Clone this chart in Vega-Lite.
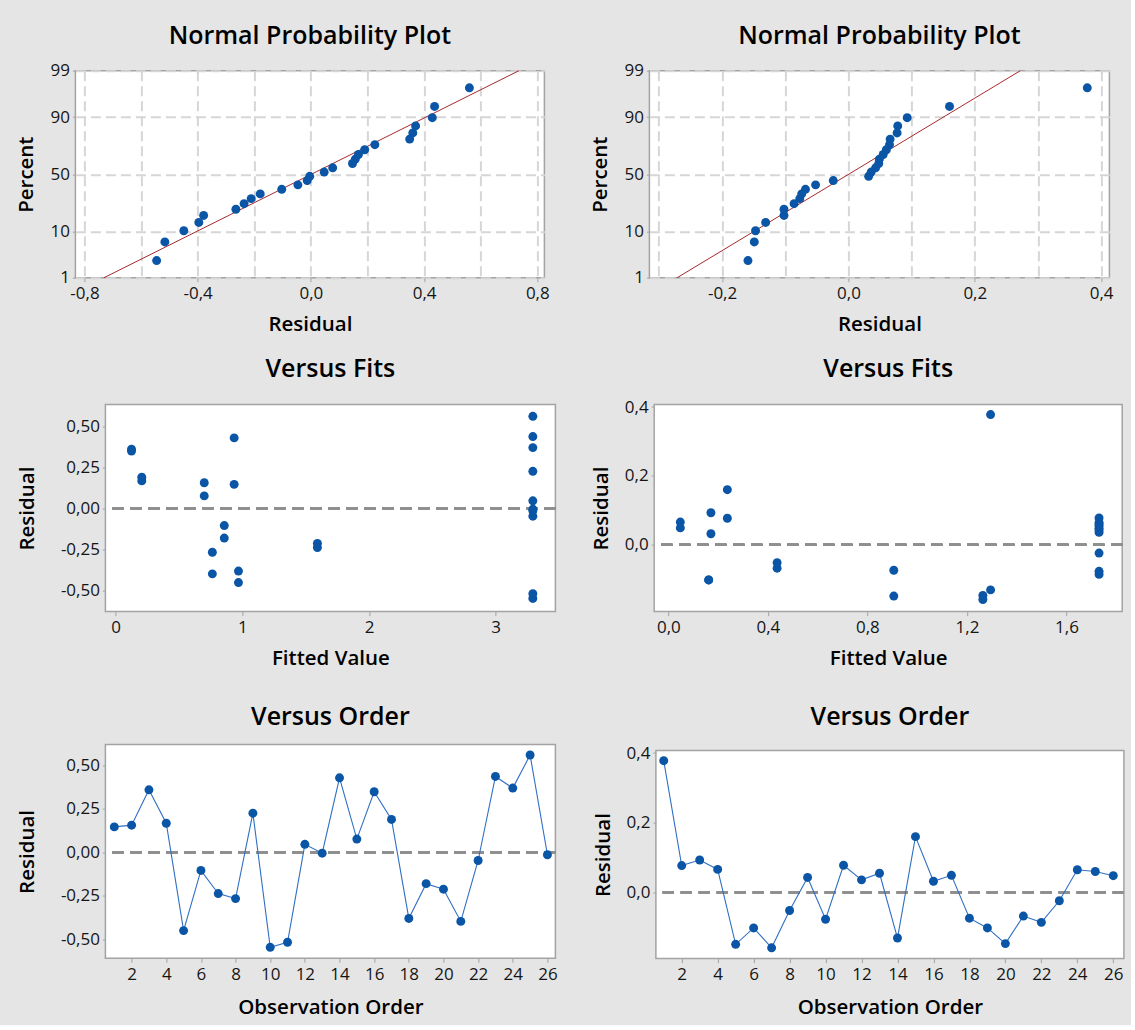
{
  "$schema": "https://vega.github.io/schema/vega-lite/v6.json",
  "background": "#e5e5e5",
  "padding": {"left": 15.4, "top": 22.7, "right": 5, "bottom": 5},
  "datasets": {
    "m1": [
      {"order": 1, "fit": 0.936, "resid": 0.147, "pct": 59.47},
      {"order": 2, "fit": 0.700, "resid": 0.157, "pct": 63.26},
      {"order": 3, "fit": 0.126, "resid": 0.360, "pct": 82.20},
      {"order": 4, "fit": 0.207, "resid": 0.168, "pct": 67.05},
      {"order": 5, "fit": 0.970, "resid": -0.449, "pct": 10.23},
      {"order": 6, "fit": 0.858, "resid": -0.103, "pct": 36.74},
      {"order": 7, "fit": 1.593, "resid": -0.236, "pct": 25.38},
      {"order": 8, "fit": 0.764, "resid": -0.265, "pct": 21.59},
      {"order": 9, "fit": 3.293, "resid": 0.226, "pct": 74.62},
      {"order": 10, "fit": 3.293, "resid": -0.545, "pct": 2.65},
      {"order": 11, "fit": 3.293, "resid": -0.516, "pct": 6.44},
      {"order": 12, "fit": 3.293, "resid": 0.047, "pct": 51.89},
      {"order": 13, "fit": 3.293, "resid": -0.004, "pct": 48.11},
      {"order": 14, "fit": 0.936, "resid": 0.429, "pct": 89.77},
      {"order": 15, "fit": 0.700, "resid": 0.077, "pct": 55.68},
      {"order": 16, "fit": 0.126, "resid": 0.349, "pct": 78.41},
      {"order": 17, "fit": 0.207, "resid": 0.190, "pct": 70.83},
      {"order": 18, "fit": 0.970, "resid": -0.379, "pct": 17.80},
      {"order": 19, "fit": 0.858, "resid": -0.179, "pct": 32.95},
      {"order": 20, "fit": 1.593, "resid": -0.211, "pct": 29.17},
      {"order": 21, "fit": 0.764, "resid": -0.396, "pct": 14.02},
      {"order": 22, "fit": 3.293, "resid": -0.046, "pct": 40.53},
      {"order": 23, "fit": 3.293, "resid": 0.437, "pct": 93.56},
      {"order": 24, "fit": 3.293, "resid": 0.370, "pct": 85.98},
      {"order": 25, "fit": 3.293, "resid": 0.560, "pct": 97.35},
      {"order": 26, "fit": 3.293, "resid": -0.013, "pct": 44.32}
    ],
    "m2": [
      {"order": 1, "fit": 1.295, "resid": 0.378, "pct": 97.35},
      {"order": 2, "fit": 0.237, "resid": 0.077, "pct": 82.20},
      {"order": 3, "fit": 0.171, "resid": 0.093, "pct": 89.77},
      {"order": 4, "fit": 0.048, "resid": 0.066, "pct": 78.41},
      {"order": 5, "fit": 0.906, "resid": -0.149, "pct": 6.44},
      {"order": 6, "fit": 0.162, "resid": -0.102, "pct": 17.80},
      {"order": 7, "fit": 1.264, "resid": -0.159, "pct": 2.65},
      {"order": 8, "fit": 0.437, "resid": -0.052, "pct": 40.53},
      {"order": 9, "fit": 1.731, "resid": 0.043, "pct": 55.68},
      {"order": 10, "fit": 1.731, "resid": -0.077, "pct": 29.17},
      {"order": 11, "fit": 1.731, "resid": 0.078, "pct": 85.98},
      {"order": 12, "fit": 1.731, "resid": 0.036, "pct": 51.89},
      {"order": 13, "fit": 1.731, "resid": 0.055, "pct": 67.05},
      {"order": 14, "fit": 1.295, "resid": -0.131, "pct": 14.02},
      {"order": 15, "fit": 0.237, "resid": 0.160, "pct": 93.56},
      {"order": 16, "fit": 0.171, "resid": 0.032, "pct": 48.11},
      {"order": 17, "fit": 0.048, "resid": 0.049, "pct": 63.26},
      {"order": 18, "fit": 0.906, "resid": -0.074, "pct": 32.95},
      {"order": 19, "fit": 0.162, "resid": -0.102, "pct": 21.59},
      {"order": 20, "fit": 1.264, "resid": -0.147, "pct": 10.23},
      {"order": 21, "fit": 0.437, "resid": -0.068, "pct": 36.74},
      {"order": 22, "fit": 1.731, "resid": -0.086, "pct": 25.38},
      {"order": 23, "fit": 1.731, "resid": -0.024, "pct": 44.32},
      {"order": 24, "fit": 1.731, "resid": 0.065, "pct": 74.62},
      {"order": 25, "fit": 1.731, "resid": 0.060, "pct": 70.83},
      {"order": 26, "fit": 1.731, "resid": 0.048, "pct": 59.47}
    ],
    "line1": [{"resid": -0.731, "pct": 1}, {"resid": 0.735, "pct": 99}],
    "line2": [{"resid": -0.271, "pct": 1}, {"resid": 0.272, "pct": 99}],
    "blank": [{}]
  },
  "concat": [
    {
      "concat": [
        {
          "width": 469, "height": 207,
          "title": {"text": "Normal Probability Plot", "offset": 13},
          "layer": [
            {
              "data": {"name": "line1"},
              "mark": {"type": "line", "color": "#a8282e", "strokeWidth": 1},
              "encoding": {
                "x": {"field": "resid", "type": "quantitative", "title": "Residual"},
                "y": {"field": "pct", "type": "quantitative", "title": "Percent"}
              }
            },
            {
              "data": {"name": "m1"},
              "mark": {"type": "circle", "size": 80, "color": "#0a55a5", "opacity": 1},
              "encoding": {
                "x": {"field": "resid", "type": "quantitative", "title": "Residual",
                  "scale": {"domain": [-0.832, 0.825], "nice": false, "zero": false},
                  "axis": {"values": [-0.8, -0.6, -0.4, -0.2, 0, 0.2, 0.4, 0.6, 0.8], "tickCount": 40, "grid": true, "titlePadding": 13, "labelOverlap": false,
                    "gridColor": "#d6d6d6", "gridDash": [10, 5], "gridWidth": 2,
                    "tickOpacity": {"condition": {"test": "round(datum.value*10)%4==0", "value": 1}, "value": 0},
                    "labelExpr": "round(datum.value*10)%4==0 ? replace(replace(format(datum.value,'.1f'),'.',','),'\u2212','-') : ''"}},
                "y": {"field": "pct", "type": "quantitative", "title": "Percent",
                  "scale": {"domain": [1,2,3,5,7,10,15,20,25,30,35,40,45,50,55,60,65,70,75,80,85,90,93,95,97,98,99],
                    "range": [207,194.87,187.18,176.68,169.16,160.52,149.61,140.94,133.51,126.83,120.64,114.77,109.09,103.5,97.91,92.23,86.36,80.17,73.49,66.06,57.39,46.48,37.84,30.32,19.82,12.13,0],
                    "nice": false, "zero": false},
                  "axis": {"values": [1, 10, 50, 90, 99], "tickCount": 40, "grid": true, "format": "d", "titlePadding": 13, "labelOverlap": false,
                    "gridColor": "#d6d6d6", "gridDash": [10, 5], "gridWidth": 2}}
              }
            }
          ]
        },
        {
          "width": 460, "height": 207,
          "title": {"text": "Normal Probability Plot", "offset": 13},
          "layer": [
            {
              "data": {"name": "line2"},
              "mark": {"type": "line", "color": "#a8282e", "strokeWidth": 1},
              "encoding": {
                "x": {"field": "resid", "type": "quantitative", "title": "Residual"},
                "y": {"field": "pct", "type": "quantitative", "title": "Percent"}
              }
            },
            {
              "data": {"name": "m2"},
              "mark": {"type": "circle", "size": 80, "color": "#0a55a5", "opacity": 1},
              "encoding": {
                "x": {"field": "resid", "type": "quantitative", "title": "Residual",
                  "scale": {"domain": [-0.315, 0.413], "nice": false, "zero": false},
                  "axis": {"values": [-0.3, -0.2, -0.1, 0, 0.1, 0.2, 0.3, 0.4], "tickCount": 40, "grid": true, "titlePadding": 13, "labelOverlap": false,
                    "gridColor": "#d6d6d6", "gridDash": [10, 5], "gridWidth": 2,
                    "tickOpacity": {"condition": {"test": "round(datum.value*10)%2==0", "value": 1}, "value": 0},
                    "labelExpr": "round(datum.value*10)%2==0 ? replace(replace(format(datum.value,'.1f'),'.',','),'\u2212','-') : ''"}},
                "y": {"field": "pct", "type": "quantitative", "title": "Percent",
                  "scale": {"domain": [1,2,3,5,7,10,15,20,25,30,35,40,45,50,55,60,65,70,75,80,85,90,93,95,97,98,99],
                    "range": [207,194.87,187.18,176.68,169.16,160.52,149.61,140.94,133.51,126.83,120.64,114.77,109.09,103.5,97.91,92.23,86.36,80.17,73.49,66.06,57.39,46.48,37.84,30.32,19.82,12.13,0],
                    "nice": false, "zero": false},
                  "axis": {"values": [1, 10, 50, 90, 99], "tickCount": 40, "grid": true, "format": "d", "titlePadding": 13, "labelOverlap": false,
                    "gridColor": "#d6d6d6", "gridDash": [10, 5], "gridWidth": 2}}
              }
            }
          ]
        }
      ],
      "columns": 2,
      "spacing": 39
    },
    {
      "concat": [
        {
          "concat": [
            {
              "concat": [
                {"width": 29.3, "height": 1, "data": {"name": "blank"}, "mark": {"type": "text", "text": ""}, "view": {"stroke": null, "fill": null}},
                {
                  "width": 450, "height": 207,
                  "title": {"text": "Versus Fits", "offset": 22.5},
                  "data": {"name": "m1"},
                  "layer": [
                    {
                      "mark": {"type": "rule", "color": "#8f8f8f", "strokeWidth": 2, "strokeDash": [11, 7]},
                      "encoding": {"y": {"datum": 0}}
                    },
                    {
                      "mark": {"type": "circle", "size": 80, "color": "#0a55a5", "opacity": 1},
                      "encoding": {
                        "x": {"field": "fit", "type": "quantitative", "title": "Fitted Value",
                          "scale": {"domain": [-0.08, 3.471], "nice": false, "zero": false},
                          "axis": {"values": [0, 1, 2, 3], "tickCount": 40, "format": "d", "titlePadding": 12.8, "labelOverlap": false}},
                        "y": {"field": "resid", "type": "quantitative", "title": "Residual",
                          "scale": {"domain": [-0.625, 0.631], "nice": false, "zero": false},
                          "axis": {"values": [-0.5, -0.25, 0, 0.25, 0.5], "tickCount": 40, "titlePadding": 22.8, "labelOverlap": false,
                            "labelExpr": "replace(replace(format(datum.value,'.2f'),'.',','),'\u2212','-')"}}
                      }
                    }
                  ]
                }
              ],
              "columns": 2,
              "spacing": 0,
              "bounds": "flush"
            },
            {
              "width": 468, "height": 207,
              "title": {"text": "Versus Fits", "offset": 16},
              "data": {"name": "m2"},
              "layer": [
                {
                  "mark": {"type": "rule", "color": "#8f8f8f", "strokeWidth": 2, "strokeDash": [11, 7]},
                  "encoding": {"y": {"datum": 0}}
                },
                {
                  "mark": {"type": "circle", "size": 80, "color": "#0a55a5", "opacity": 1},
                  "encoding": {
                    "x": {"field": "fit", "type": "quantitative", "title": "Fitted Value",
                      "scale": {"domain": [-0.057, 1.824], "nice": false, "zero": false},
                      "axis": {"values": [0, 0.4, 0.8, 1.2, 1.6], "tickCount": 40, "titlePadding": 12.8, "labelOverlap": false,
                        "labelExpr": "replace(replace(format(datum.value,'.1f'),'.',','),'\u2212','-')"}},
                    "y": {"field": "resid", "type": "quantitative", "title": "Residual",
                      "scale": {"domain": [-0.194, 0.407], "nice": false, "zero": false},
                      "axis": {"values": [0, 0.2, 0.4], "tickCount": 40, "titlePadding": 13, "labelOverlap": false,
                        "labelExpr": "replace(replace(format(datum.value,'.1f'),'.',','),'\u2212','-')"}}
                  }
                }
              ]
            }
          ],
          "columns": 2,
          "spacing": 32.8
        },
        {
          "concat": [
            {
              "concat": [
                {"width": 29.3, "height": 1, "data": {"name": "blank"}, "mark": {"type": "text", "text": ""}, "view": {"stroke": null, "fill": null}},
                {
                  "width": 450, "height": 213.7,
                  "title": {"text": "Versus Order", "offset": 14.2},
                  "data": {"name": "m1"},
                  "layer": [
                    {
                      "mark": {"type": "rule", "color": "#8f8f8f", "strokeWidth": 2, "strokeDash": [11, 7]},
                      "encoding": {"y": {"datum": 0}}
                    },
                    {
                      "mark": {"type": "line", "color": "#2f6fc4", "strokeWidth": 1.1},
                      "encoding": {
                        "x": {"field": "order", "type": "quantitative", "title": "Observation Order"},
                        "y": {"field": "resid", "type": "quantitative", "title": "Residual"}
                      }
                    },
                    {
                      "mark": {"type": "circle", "size": 80, "color": "#0a55a5", "opacity": 1},
                      "encoding": {
                        "x": {"field": "order", "type": "quantitative", "title": "Observation Order",
                          "scale": {"domain": [0.487, 26.46], "nice": false, "zero": false},
                          "axis": {"values": [2,4,6,8,10,12,14,16,18,20,22,24,26], "tickCount": 40, "format": "d", "titlePadding": 15, "labelOverlap": false}},
                        "y": {"field": "resid", "type": "quantitative", "title": "Residual",
                          "scale": {"domain": [-0.608, 0.62], "nice": false, "zero": false},
                          "axis": {"values": [-0.5, -0.25, 0, 0.25, 0.5], "tickCount": 40, "titlePadding": 22.8, "labelOverlap": false,
                            "labelExpr": "replace(replace(format(datum.value,'.2f'),'.',','),'\u2212','-')"}}
                      }
                    }
                  ]
                }
              ],
              "columns": 2,
              "spacing": 0,
              "bounds": "flush"
            },
            {
              "concat": [
                {"width": 1, "height": 6, "data": {"name": "blank"}, "mark": {"type": "text", "text": ""}, "view": {"stroke": null, "fill": null}},
                {
                  "width": 468, "height": 208,
                  "title": {"text": "Versus Order", "offset": 14.1},
                  "data": {"name": "m2"},
                  "layer": [
                    {
                      "mark": {"type": "rule", "color": "#8f8f8f", "strokeWidth": 2, "strokeDash": [11, 7]},
                      "encoding": {"y": {"datum": 0}}
                    },
                    {
                      "mark": {"type": "line", "color": "#2f6fc4", "strokeWidth": 1.1},
                      "encoding": {
                        "x": {"field": "order", "type": "quantitative", "title": "Observation Order"},
                        "y": {"field": "resid", "type": "quantitative", "title": "Residual"}
                      }
                    },
                    {
                      "mark": {"type": "circle", "size": 80, "color": "#0a55a5", "opacity": 1},
                      "encoding": {
                        "x": {"field": "order", "type": "quantitative", "title": "Observation Order",
                          "scale": {"domain": [0.565, 26.59], "nice": false, "zero": false},
                          "axis": {"values": [2,4,6,8,10,12,14,16,18,20,22,24,26], "tickCount": 40, "format": "d", "titlePadding": 15, "labelOverlap": false}},
                        "y": {"field": "resid", "type": "quantitative", "title": "Residual",
                          "scale": {"domain": [-0.19, 0.407], "nice": false, "zero": false},
                          "axis": {"values": [0, 0.2, 0.4], "tickCount": 40, "titlePadding": 13, "labelOverlap": false,
                            "labelExpr": "replace(replace(format(datum.value,'.1f'),'.',','),'\u2212','-')"}}
                      }
                    }
                  ]
                }
              ],
              "columns": 1,
              "spacing": 0,
              "bounds": "flush"
            }
          ],
          "columns": 2,
          "spacing": 33.5
        }
      ],
      "columns": 1,
      "spacing": 33
    }
  ],
  "columns": 1,
  "spacing": 18.9,
  "config": {
    "font": "Open Sans",
    "view": {"fill": "white", "stroke": "#a3a3a3", "strokeWidth": 1.5},
    "axis": {
      "domain": false, "grid": false, "labelFlush": false, "labelOverlap": false,
      "labelFont": "Open Sans", "labelFontSize": 17, "labelColor": "#151515",
      "titleFont": "Open Sans", "titleFontSize": 20.5, "titleFontWeight": 600, "titleColor": "#000000",
      "tickColor": "#a3a3a3", "tickSize": 4, "labelPadding": 4
    },
    "axisY": {"tickSize": 3, "labelPadding": 3},
    "title": {"font": "Open Sans", "fontSize": 25, "fontWeight": 600, "color": "#000000", "anchor": "middle", "frame": "group", "baseline": "alphabetic"}
  }
}
